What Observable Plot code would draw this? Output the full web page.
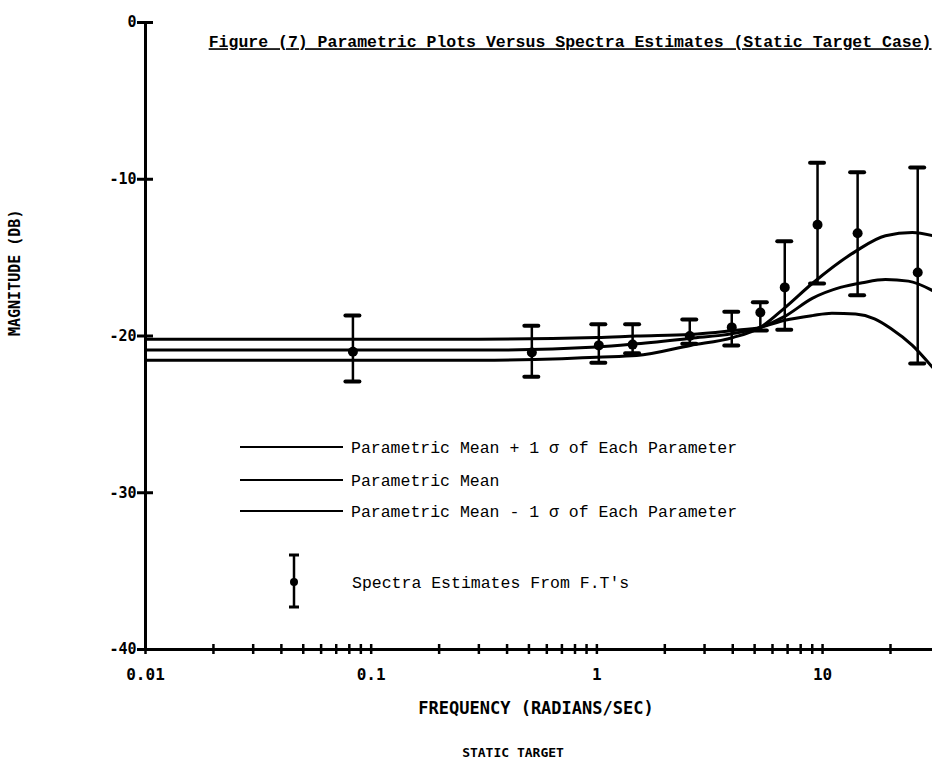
<!DOCTYPE html>
<html><head><meta charset="utf-8">
<script src="https://cdn.jsdelivr.net/npm/d3@7"></script>
<script src="https://cdn.jsdelivr.net/npm/@observablehq/plot@0.6"></script>
<style>
body{margin:0;background:#fff;}
#wrap{position:relative;width:932px;height:761px;overflow:hidden;}
</style></head><body><div id="wrap"></div>
<script>
// ---- data ----
const titleText = "Figure (7) Parametric Plots Versus Spectra Estimates (Static Target Case)";
const xTitle = "FREQUENCY (RADIANS/SEC)";
const subCaption = "STATIC TARGET";
const yTitle = "MAGNITUDE (DB)";

const xDomain = [0.01, 30.7];
const yDomain = [-40, 0];
const xTicks = [0.01,0.02,0.03,0.04,0.05,0.06,0.07,0.08,0.09,
                0.1,0.2,0.3,0.4,0.5,0.6,0.7,0.8,0.9,
                1,2,3,4,5,6,7,8,9,10,20];
const xTickLabels = [0.01, 0.1, 1, 10];
const xTickText = ["0.01", "0.1", "1", "10"];
const yTicks = [0, -10, -20, -30, -40];
const yTickText = ["0", "-10", "-20", "-30", "-40"];

// Parametric mean + 1 sigma (highest at low frequency)
const freqA = [0.01, 0.3, 1, 1.5, 2.6, 4, 5.3, 6.8, 9, 11, 14, 17, 20, 25, 30.7];
const dbA   = [-20.2, -20.2, -20.1, -20.0, -19.9, -19.65, -19.45, -19.0, -18.7, -18.55, -18.6, -18.9, -19.5, -20.6, -22.0];
// Parametric mean
const freqB = [0.01, 0.3, 1, 1.5, 2.6, 4, 5.3, 6.8, 9, 12, 15, 19, 24, 30.7];
const dbB   = [-20.9, -20.9, -20.7, -20.5, -20.15, -19.85, -19.45, -18.75, -17.6, -16.9, -16.6, -16.4, -16.5, -17.1];
// Parametric mean - 1 sigma
const freqC = [0.01, 0.3, 0.7, 1, 1.5, 2.6, 4, 5.3, 6.8, 9, 14, 19, 25, 30.7];
const dbC   = [-21.55, -21.55, -21.45, -21.35, -21.25, -20.6, -20.1, -19.45, -18.2, -16.65, -14.6, -13.6, -13.4, -13.6];

// Spectra estimates from FFTs (mean and error bar ends)
const estFreq = [0.083, 0.515, 1.02, 1.44, 2.58, 3.96, 5.3, 6.8, 9.5, 14.3, 26.4];
const estMean = [-21.0, -21.05, -20.6, -20.55, -20.0, -19.45, -18.5, -16.9, -12.9, -13.45, -15.95];
const estHi   = [-18.7, -19.35, -19.25, -19.25, -18.95, -18.45, -17.85, -13.95, -8.95, -9.55, -9.25];
const estLo   = [-22.9, -22.6, -21.7, -21.1, -20.5, -20.6, -19.65, -19.6, -16.65, -17.4, -21.75];

const legendLabels = ["Parametric Mean + 1 σ of Each Parameter", "Parametric Mean", "Parametric Mean - 1 σ of Each Parameter"];
const estLabel = "Spectra Estimates From F.T's";

// ---- build tables ----
const curves = [
  ...freqA.map((f, i) => ({f, db: dbA[i], s: "plus"})),
  ...freqB.map((f, i) => ({f, db: dbB[i], s: "mean"})),
  ...freqC.map((f, i) => ({f, db: dbC[i], s: "minus"}))
];
const est = estFreq.map((f, i) => ({f, m: estMean[i], hi: estHi[i], lo: estLo[i]}));

const blocky = "DejaVu Sans Mono";
const typew = "Liberation Mono";

const svg = Plot.plot({
  width: 932, height: 761,
  marginLeft: 145, marginRight: 0, marginTop: 22, marginBottom: 112,
  x: {type: "log", domain: xDomain, axis: null},
  y: {domain: yDomain, axis: null},
  style: {background: "white", color: "black"},
  marks: [
    // axes
    Plot.ruleX([xDomain[0]], {strokeWidth: 3}),
    Plot.ruleY([yDomain[0]], {strokeWidth: 3}),
    Plot.ruleX(xTicks, {x: d => d, y1: yDomain[0], y2: yDomain[0], insetTop: -5, insetBottom: -5, strokeWidth: 2.5}),
    Plot.ruleY(yTicks, {y: d => d, x1: xDomain[0], x2: xDomain[0], insetLeft: -8, insetRight: -8, strokeWidth: 3}),
    Plot.text(xTickLabels, {x: d => d, y: yDomain[0], text: (d, i) => xTickText[i], dy: 25,
      fontFamily: blocky, fontWeight: "bold", fontSize: 16, letterSpacing: 2}),
    Plot.text(yTicks, {x: xDomain[0], y: d => d, text: (d, i) => yTickText[i], dx: -9, textAnchor: "end",
      fontFamily: blocky, fontWeight: "bold", fontSize: 15}),
    // curves
    Plot.line(curves, {x: "f", y: "db", z: "s", curve: "monotone-x", stroke: "black", strokeWidth: 3}),
    // error bars
    Plot.ruleX(est, {x: "f", y1: "lo", y2: "hi", strokeWidth: 2.5}),
    Plot.ruleY(est, {y: "hi", x1: "f", x2: "f", insetLeft: -7, insetRight: -7, strokeWidth: 4, strokeLinecap: "round"}),
    Plot.ruleY(est, {y: "lo", x1: "f", x2: "f", insetLeft: -7, insetRight: -7, strokeWidth: 4, strokeLinecap: "round"}),
    Plot.dot(est, {x: "f", y: "m", r: 5, fill: "black"}),
    // titles
    Plot.text([titleText], {frameAnchor: "top-right", dx: -1, dy: 13, textAnchor: "end", lineAnchor: "top",
      fontFamily: typew, fontWeight: "bold", fontSize: 16.5}),
    Plot.text([xTitle], {frameAnchor: "bottom", dx: -3, dy: 59, lineAnchor: "middle",
      fontFamily: blocky, fontWeight: "bold", fontSize: 17, letterSpacing: 2.5}),
    Plot.text([subCaption], {frameAnchor: "bottom", dx: -26, dy: 103, lineAnchor: "middle",
      fontFamily: blocky, fontWeight: "bold", fontSize: 13}),
    Plot.text([yTitle], {frameAnchor: "left", dx: -130, rotate: -90, lineAnchor: "middle",
      fontFamily: blocky, fontWeight: "bold", fontSize: 15, letterSpacing: 4.5})
  ]
});

// underline the figure title
d3.select(svg).selectAll("text").filter(function() { return this.textContent === titleText; })
  .attr("text-decoration", "underline");

// legend (inside the frame)
const lg = d3.select(svg).append("g").attr("fill", "black").attr("stroke", "black").attr("text-anchor", "start");
const rowY = [447, 480, 511];
legendLabels.forEach((t, i) => {
  lg.append("line").attr("x1", 240).attr("x2", 343).attr("y1", rowY[i]).attr("y2", rowY[i]).attr("stroke-width", 2);
  lg.append("text").attr("x", 351).attr("y", rowY[i]).attr("dy", "0.35em").attr("stroke", "none")
    .attr("text-anchor", "start").attr("font-family", typew).attr("font-size", 16.5).text(t);
});
lg.append("line").attr("x1", 294).attr("x2", 294).attr("y1", 555).attr("y2", 607).attr("stroke-width", 2.5);
lg.append("line").attr("x1", 289).attr("x2", 299).attr("y1", 555).attr("y2", 555).attr("stroke-width", 3);
lg.append("line").attr("x1", 289).attr("x2", 299).attr("y1", 607).attr("y2", 607).attr("stroke-width", 3);
lg.append("circle").attr("cx", 294).attr("cy", 582).attr("r", 4).attr("stroke", "none");
lg.append("text").attr("x", 352).attr("y", 582).attr("dy", "0.35em").attr("stroke", "none")
  .attr("text-anchor", "start").attr("font-family", typew).attr("font-size", 16.5).text(estLabel);

document.getElementById("wrap").appendChild(svg);
</script>
</body></html>
